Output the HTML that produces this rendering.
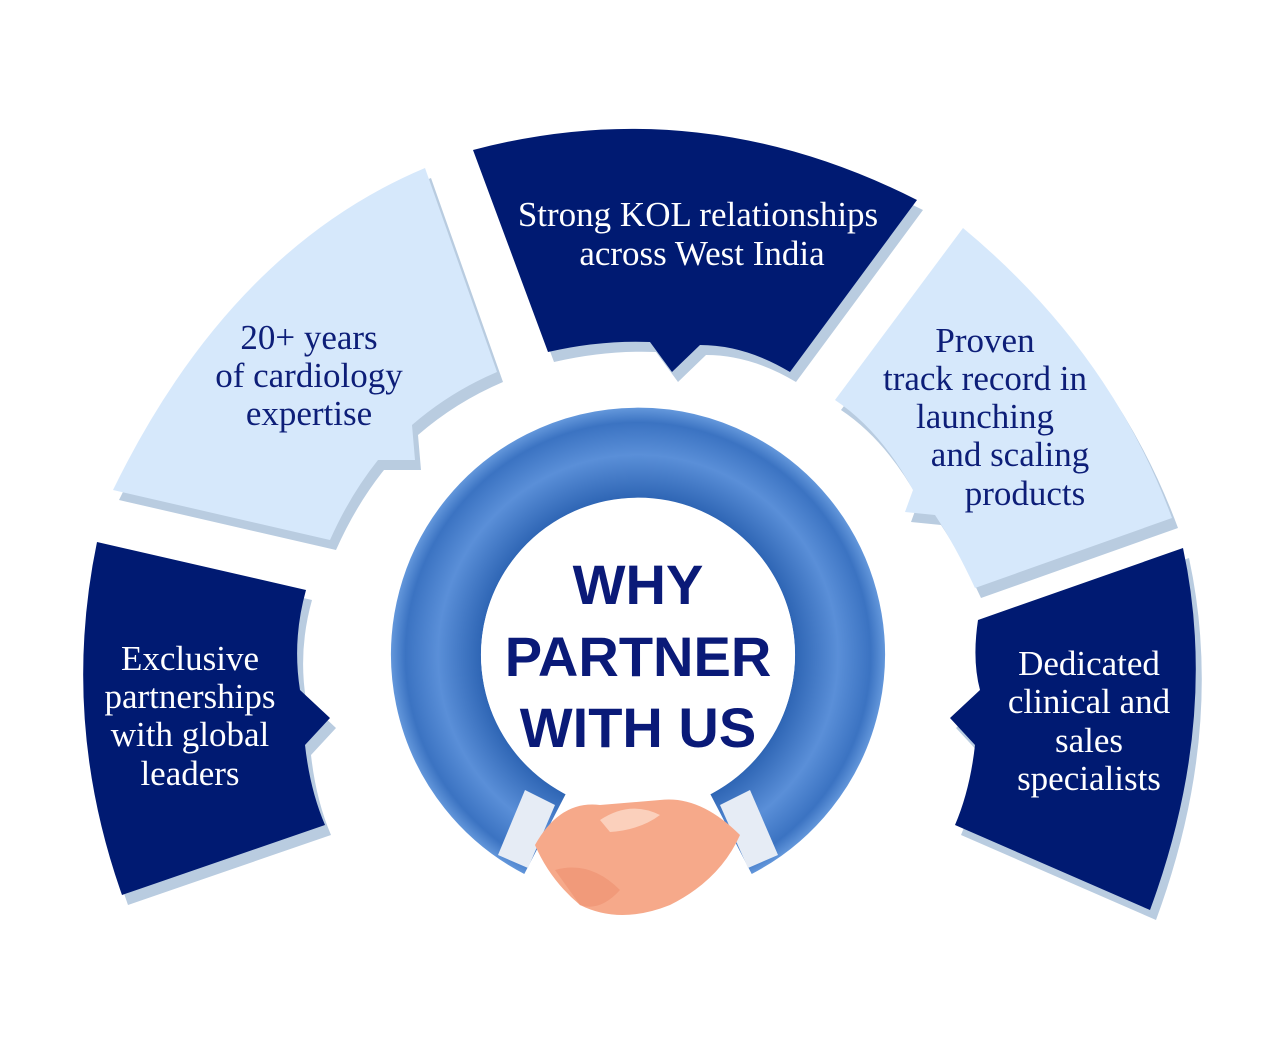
<!DOCTYPE html>
<html><head><meta charset="utf-8"><style>
html,body{margin:0;padding:0;background:#fff;}
svg{display:block;}
text{font-family:"Liberation Serif",serif;fill:#0d1e78;}
.d text{fill:#fff;}
.h{font-family:"Liberation Sans",sans-serif;font-weight:bold;fill:#0a1a78;}
</style></head><body>
<svg width="1280" height="1045" viewBox="0 0 1280 1045" xmlns="http://www.w3.org/2000/svg">
<defs>
<radialGradient id="rg" cx="638" cy="655" r="250" gradientUnits="userSpaceOnUse">
<stop offset="0.63" stop-color="#2f66b5"/><stop offset="0.8" stop-color="#5a8fd8"/><stop offset="0.93" stop-color="#3b73c2"/><stop offset="1" stop-color="#6b9ee0"/>
</radialGradient>
</defs>
<g fill="#b9cce0" transform="translate(6,10)">
<path d="M113,490 Q230,250 425,168 L497,372 Q450,392 412,425 L415,460 L378,460 Q350,495 330,540 Z"/>
<path d="M963,228 Q1110,350 1172,518 L975,588 Q955,545 935,515 L905,512 L913,490 Q880,430 835,400 Z"/>
<path d="M473,150 Q700,90 917,200 L790,372 Q745,345 700,345 L672,372 L650,342 Q600,340 548,352 Z"/>
<path d="M97,542 L306,590 Q292,640 300,690 L330,718 L305,745 Q310,790 325,825 L122,895 Q60,720 97,542 Z"/>
<path d="M1183,548 L978,620 Q972,660 980,690 L950,718 L975,745 Q970,790 955,825 L1150,910 Q1220,720 1183,548 Z"/>
</g>
<g fill="#d6e8fb">
<path d="M113,490 Q230,250 425,168 L497,372 Q450,392 412,425 L415,460 L378,460 Q350,495 330,540 Z"/>
<path d="M963,228 Q1110,350 1172,518 L975,588 Q955,545 935,515 L905,512 L913,490 Q880,430 835,400 Z"/>
</g>
<g fill="#001a72">
<path d="M473,150 Q700,90 917,200 L790,372 Q745,345 700,345 L672,372 L650,342 Q600,340 548,352 Z"/>
<path d="M97,542 L306,590 Q292,640 300,690 L330,718 L305,745 Q310,790 325,825 L122,895 Q60,720 97,542 Z"/>
<path d="M1183,548 L978,620 Q972,660 980,690 L950,718 L975,745 Q970,790 955,825 L1150,910 Q1220,720 1183,548 Z"/>
</g>
<g font-size="35" text-anchor="middle">
<text x="309" y="349">20+ years</text>
<text x="309" y="387">of cardiology</text>
<text x="309" y="425">expertise</text>
<text x="985" y="352">Proven</text>
<text x="985" y="390">track record in</text>
<text x="985" y="428">launching</text>
<text x="1010" y="466">and scaling</text>
<text x="1025" y="505">products</text>
</g>
<g class="d" font-size="35" text-anchor="middle">
<text x="698" y="226">Strong KOL relationships</text>
<text x="702" y="265">across West India</text>
<text x="190" y="670">Exclusive</text>
<text x="190" y="708">partnerships</text>
<text x="190" y="746">with global</text>
<text x="190" y="785">leaders</text>
<text x="1089" y="675">Dedicated</text>
<text x="1089" y="713">clinical and</text>
<text x="1089" y="752">sales</text>
<text x="1089" y="790">specialists</text>
</g>
<path d="M545,834 A202,202 0 1 1 731,834" fill="none" stroke="url(#rg)" stroke-width="90"/>
<circle cx="638" cy="655" r="157" fill="#fff"/>
<path d="M498,855 L525,790 L555,805 L528,868 Z" fill="#e6ecf5"/>
<path d="M778,855 L750,790 L720,805 L748,868 Z" fill="#e6ecf5"/>
<path d="M535,845 Q560,800 600,805 L660,800 Q700,795 740,835 Q720,880 670,905 Q620,925 580,905 Q550,880 535,845 Z" fill="#f6a98a"/>
<path d="M600,820 Q630,800 660,815 Q640,830 610,832 Z" fill="#fbd0bc"/>
<path d="M555,870 Q590,860 620,890 Q600,912 580,905 Z" fill="#f19a7a"/>
<text class="h" x="638" y="604" font-size="56" text-anchor="middle">WHY</text>
<text class="h" x="638" y="676" font-size="56" text-anchor="middle">PARTNER</text>
<text class="h" x="638" y="747" font-size="56" text-anchor="middle">WITH US</text>
</svg>
</body></html>
